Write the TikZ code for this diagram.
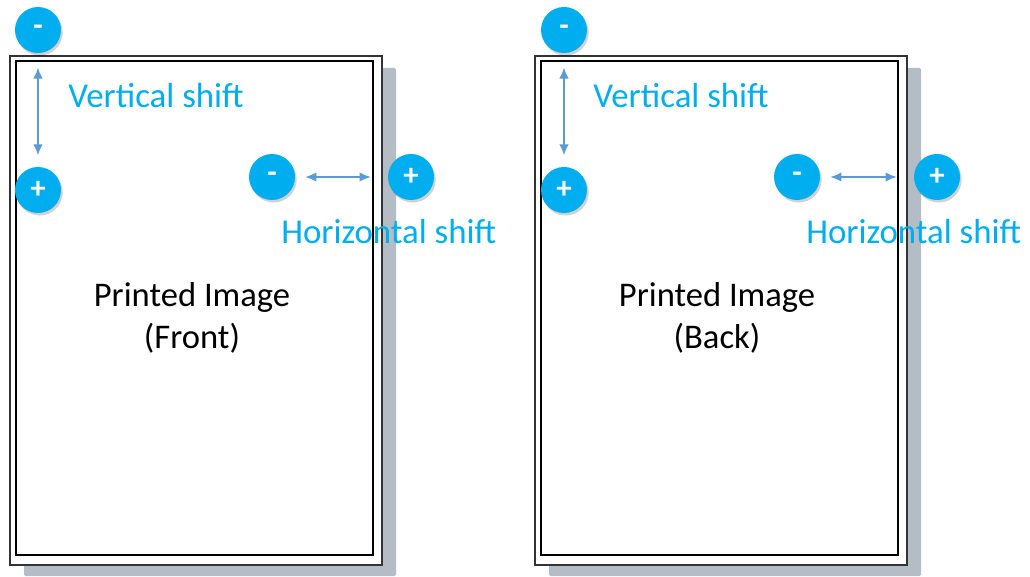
\documentclass[tikz,border=0pt]{standalone}
\usepackage{fontspec}
\setmainfont{Carlito}
\usepackage{xcolor}
\usepackage{tikz}
\usetikzlibrary{arrows.meta,positioning}

\definecolor{knobblue}{RGB}{0,174,239}
\definecolor{shiftblue}{RGB}{91,155,213}
\definecolor{shadowgray}{RGB}{180,188,198}

\begin{document}
\begin{tikzpicture}[
  x=0.025cm, y=-0.025cm,
  knob/.style={circle,fill=knobblue,text=white,minimum size=1.15cm,inner sep=0pt,
    font=\fontsize{22}{22}\selectfont\bfseries,
    preaction={fill=black,opacity=0.18,transform canvas={shift={(1.2pt,-1.8pt)}}}},
  shiftlabel/.style={text=knobblue,anchor=west,inner sep=0pt,font=\fontsize{24.8}{29}\selectfont},
  pagelabel/.style={align=center,font=\fontsize{24.6}{29.5}\selectfont},
  shiftarrow/.style={{Latex[length=2.8mm,width=2.4mm]}-{Latex[length=2.8mm,width=2.4mm]},shiftblue,line width=1.5pt},
  pageshadow/.style={fill=shadowgray,rounded corners=1pt},
  pageedge/.style={draw=black!80,line width=1.4pt,fill=white}
]
  \useasboundingbox (0,0) rectangle (1030,577);

  % front page
  \fill[pageshadow] (24,68) rectangle (396,576);
  \draw[pageedge] (10,56) rectangle (382,565);
  \draw[draw=black,line width=1.3pt] (16,61) rectangle (373,555);
  \node[pagelabel] (front) at (192,318) {Printed Image\\(Front)};

  \node[knob] (fvminus) at (38,30) {-};
  \node[knob] (fvplus) at (38,190) {+};
  \node[knob] (fhminus) at (272,177) {-};
  \node[knob] (fhplus) at (411,177) {+};
  \draw[shiftarrow,shorten <=10pt,shorten >=8pt] (fvminus) -- (fvplus);
  \draw[shiftarrow,shorten <=7pt,shorten >=12pt] (fhminus) -- (fhplus);
  \node[shiftlabel] (fvtext) at (68,96) {Vertical shift};
  \node[shiftlabel] (fhtext) at (281,232) {Horizontal shift};

  % back page
  \fill[pageshadow] (549,68) rectangle (921,576);
  \draw[pageedge] (535,56) rectangle (907,565);
  \draw[draw=black,line width=1.3pt] (541,61) rectangle (898,555);
  \node[pagelabel] (back) at (717,318) {Printed Image\\(Back)};

  \node[knob] (bvminus) at (564,30) {-};
  \node[knob] (bvplus) at (564,190) {+};
  \node[knob] (bhminus) at (797,177) {-};
  \node[knob] (bhplus) at (937,177) {+};
  \draw[shiftarrow,shorten <=10pt,shorten >=8pt] (bvminus) -- (bvplus);
  \draw[shiftarrow,shorten <=7pt,shorten >=12pt] (bhminus) -- (bhplus);
  \node[shiftlabel] (bvtext) at (593,96) {Vertical shift};
  \node[shiftlabel] (bhtext) at (806,232) {Horizontal shift};
\end{tikzpicture}
\end{document}
